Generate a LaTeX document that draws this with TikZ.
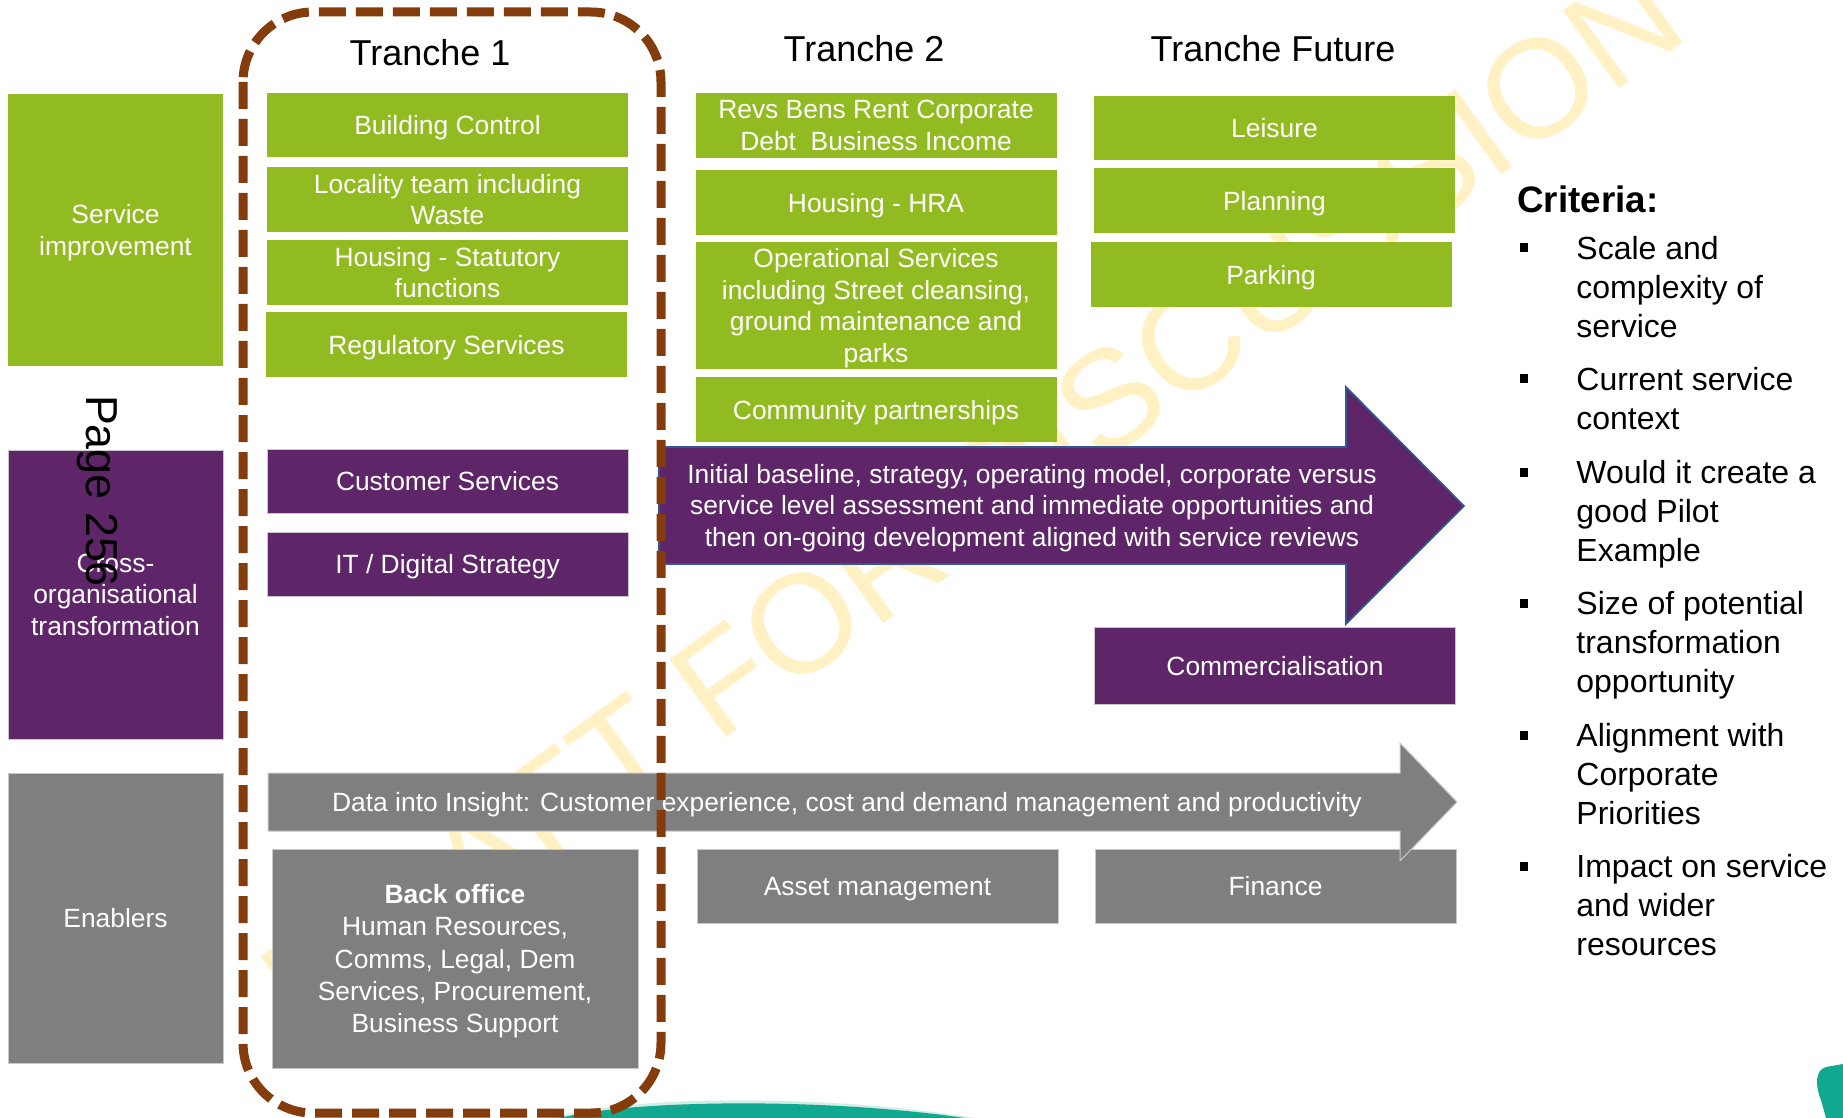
\documentclass[tikz,border=0pt]{standalone}
\usepackage{fontspec}
\setmainfont{Liberation Sans}

\definecolor{boxgreen}{RGB}{146,187,33}
\definecolor{boxpurple}{RGB}{94,37,105}
\definecolor{boxgrey}{RGB}{127,127,127}
\definecolor{edgegrey}{RGB}{200,200,200}
\definecolor{arrowblue}{RGB}{52,86,150}
\definecolor{framebrown}{RGB}{132,60,12}
\definecolor{draftyellow}{RGB}{255,241,196}
\definecolor{swoosh}{RGB}{16,168,142}

% keeps box text centred on its line box, with or without descenders
\newcommand{\topstrut}{\rule{0pt}{12.7pt}}
\newcommand{\botstrut}{\rule[-2.8pt]{0pt}{2.8pt}}

\tikzset{
  tile/.style={inner sep=0pt, align=center, text=white, font=\fontsize{13.2}{15.8}\selectfont,
    execute at begin node=\topstrut, execute at end node=\botstrut},
  multi/.style={text depth=0pt},
  greentile/.style={tile, fill=boxgreen},
  purpletile/.style={tile, fill=boxpurple, draw=edgegrey, line width=0.5pt},
  greytile/.style={tile, fill=boxgrey, draw=edgegrey, line width=0.5pt},
  wide/.style={minimum width=180.5pt},
  side/.style={minimum width=107.5pt},
  row/.style={minimum height=32.5pt},
  heading/.style={font=\fontsize{18}{21}\selectfont},
  criterion/.style={anchor=north west, inner sep=0pt, align=left, font=\fontsize{16}{19.4}\selectfont},
  tick/.style={fill=black, minimum width=4pt, minimum height=4.5pt, inner sep=0pt},
  trancheframe/.style={draw=framebrown, line width=4.5pt, dash pattern=on 13.5pt off 5pt, rounded corners=35pt},
}

\begin{document}
\begin{tikzpicture}[x=0.5pt, y=-0.5pt]

    \useasboundingbox (0,0) rectangle (1843,1118);

    % Watermark behind everything
    \node[rotate=36, text=draftyellow, font=\fontsize{70}{70}\selectfont] (draft) at (972,500) {DRAFT FOR DISCUSSION};

    % Teal swooshes along the bottom edge
    \fill[swoosh!20] (552,1118) .. controls (625,1096) and (820,1093) .. (975,1118) -- cycle;
    \fill[swoosh] (560,1118) .. controls (630,1100) and (820,1097) .. (965,1118) -- cycle;
    \fill[swoosh] (1843,1064) -- (1826,1067) .. controls (1815,1070) and (1815,1086) .. (1821,1100) -- (1826,1118) -- (1843,1118) -- cycle;

    % Row labels
    \node[greentile, multi, side, minimum height=136pt] (svcimp) at (115.5,230) {Service\\improvement};
    \node[purpletile, multi, side, minimum height=144.5pt] (crossorg) at (115.5,594.5) {Cross-\\organisational\\transformation};
    \node[greytile, side, minimum height=145pt] (enablers) at (115.5,918) {Enablers};

    % Tranche headings
    \node[heading] (t1) at (430,53) {Tranche 1};
    \node[heading] (t2) at (864,49) {Tranche 2};
    \node[heading] (tf) at (1273,49) {Tranche Future};

    % Tranche 1
    \node[greentile, wide, minimum height=32pt] (bldg) at (447.5,125) {Building Control};
    \node[greentile, multi, wide, row] (locality) at (447.5,199.5) {Locality team including\\Waste};
    \node[greentile, multi, wide, row] (hsgstat) at (447.5,272.5) {Housing - Statutory\\functions};
    \node[greentile, wide, row] (regs) at (446.5,344.5) {Regulatory Services};
    \node[purpletile, wide, minimum height=32pt] (custsvc) at (447.5,481) {Customer Services};
    \node[purpletile, wide, minimum height=32pt] (itdigital) at (447.5,564) {IT / Digital Strategy};

    % Tranche 2
    \node[greentile, multi, wide, row] (revs) at (876,125.5) {Revs Bens Rent Corporate\\Debt\ \ Business Income};
    \node[greentile, wide, row] (hra) at (876,202.5) {Housing - HRA};
    \node[greentile, multi, wide, minimum height=63.5pt] (ops) at (876,305.5) {Operational Services\\including Street cleansing,\\ground maintenance and\\parks};
    \node[greentile, wide, row] (community) at (876,409.5) {Community partnerships};

    % Tranche Future
    \node[greentile, wide, minimum height=32pt] (leisure) at (1274.5,128) {Leisure};
    \node[greentile, wide, row] (planning) at (1274.5,200.5) {Planning};
    \node[greentile, wide, row] (parking) at (1271,274.5) {Parking};
    \node[purpletile, wide, minimum height=38.5pt] (commercial) at (1275,665.5) {Commercialisation};

    % Enablers row
    \node[greytile, multi, minimum width=183pt, minimum height=109.5pt, font=\fontsize{13.2}{16.1}\selectfont] (backoffice) at (455,958.5) {\textbf{Back office}\\Human Resources,\\Comms, Legal, Dem\\Services, Procurement,\\Business Support};
    \node[greytile, wide, minimum height=37pt] (assets) at (877.5,886) {Asset management};
    \node[greytile, wide, minimum height=37pt] (finance) at (1275.5,886) {Finance};

    % Purple band across tranches 2 and future
    \filldraw[fill=boxpurple, draw=arrowblue, line width=0.8pt] (659,447) -- (1346,447) -- (1346,387) -- (1464,506) -- (1346,624) -- (1346,564) -- (659,564) -- cycle;
    \node[tile] (baseline) at (1032,508) {Initial baseline, strategy, operating model, corporate versus\\service level assessment and immediate opportunities and\\then on-going development aligned with service reviews};

    % Grey band for the enablers
    \filldraw[fill=boxgrey, draw=edgegrey, line width=0.5pt] (268,773) -- (1400,773) -- (1400,743) -- (1457,802) -- (1400,861) -- (1400,831) -- (268,831) -- cycle;
    \node[tile] (insight) at (847,802) {Data into Insight: Customer experience, cost and demand management and productivity};

    % Criteria list
    \node[anchor=base west, inner sep=0pt, font=\bfseries\fontsize{18.4}{22}\selectfont] (criteria) at (1517,213) {Criteria:};
    \node[tick] (b1) at (1524,248) {};
    \node[criterion] (c1) at (1576,236) {Scale and\\complexity of\\service};
    \node[tick] (b2) at (1524,379) {};
    \node[criterion] (c2) at (1576,367) {Current service\\context};
    \node[tick] (b3) at (1524,472) {};
    \node[criterion] (c3) at (1576,460) {Would it create a\\good Pilot\\Example};
    \node[tick] (b4) at (1524,603) {};
    \node[criterion] (c4) at (1576,591) {Size of potential\\transformation\\opportunity};
    \node[tick] (b5) at (1524,735) {};
    \node[criterion] (c5) at (1576,723) {Alignment with\\Corporate\\Priorities};
    \node[tick] (b6) at (1524,866) {};
    \node[criterion] (c6) at (1576,854) {Impact on service\\and wider\\resources};

    % Page stamp
    \node[rotate=-90, anchor=base, inner sep=0pt, font=\fontsize{22.4}{22.4}\selectfont] (pagenum) at (86,491) {Page 256};

    % Dashed frame round tranche 1
    \draw[trancheframe] (243,12) rectangle (661,1113);

\end{tikzpicture}
\end{document}
